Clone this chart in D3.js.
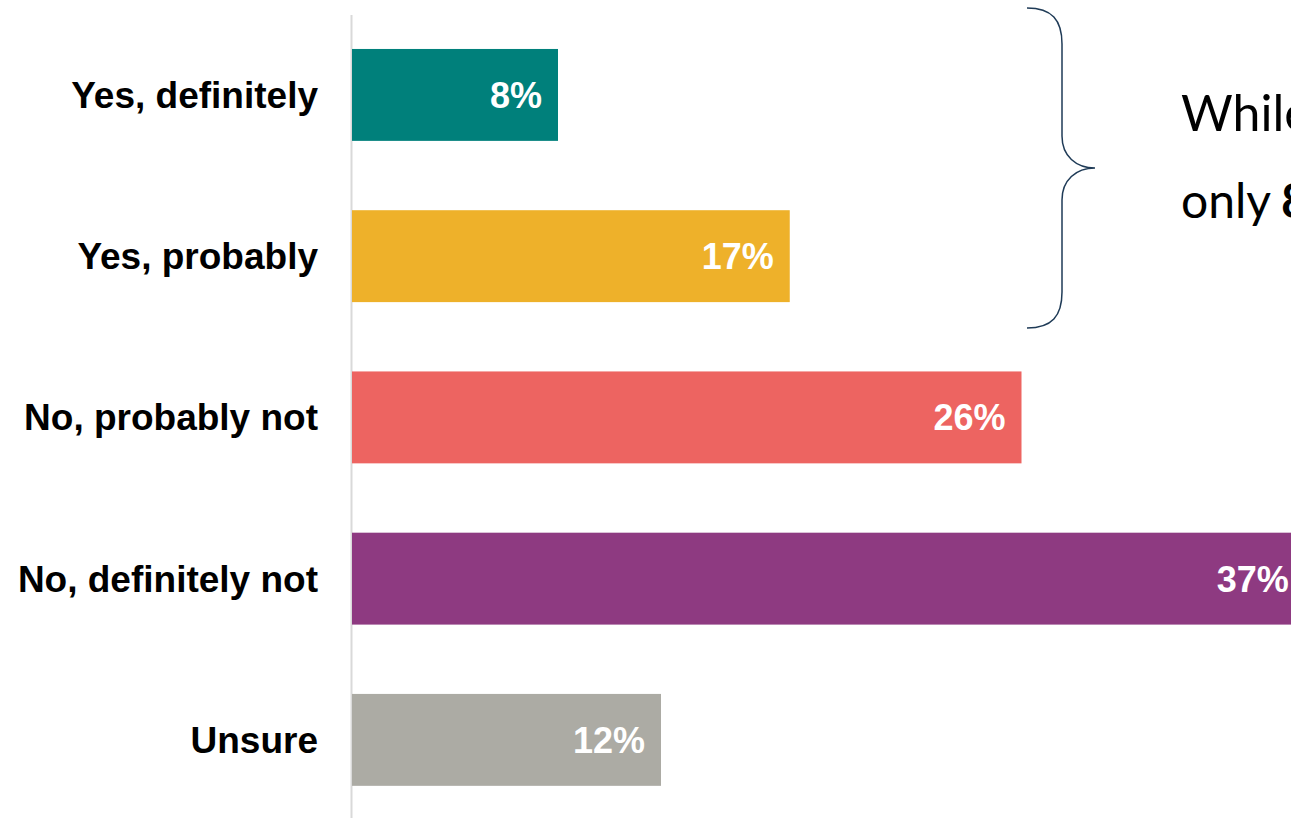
<!DOCTYPE html>
<html>
<head>
<meta charset="utf-8">
<script src="https://cdn.jsdelivr.net/npm/d3@7"></script>
<style>
  html, body { margin: 0; padding: 0; background: #fff; overflow: hidden; }
  svg { display: block; }
</style>
</head>
<body>
<svg id="chart" width="1291" height="818"></svg>
<script>
const categories = ["Yes, definitely", "Yes, probably", "No, probably not", "No, definitely not", "Unsure"];
const values = [8, 17, 26, 37, 12];
const colors = ["#00807b", "#eeb12a", "#ed6461", "#8e3a81", "#acaba4"];
const annotationLine1 = "While 25% say yes,";
const annotationLine2a = "only";
const annotationLine2b = "8%";
const annotationLine2c = " say definitely";

const svg = d3.select("#chart");

const x = d3.scaleLinear().domain([0, 37]).range([352, 352 + 37 * 25.75]);
const y = d3.scaleBand().domain(categories).range([14.3, 820.5]).paddingInner(0.43).paddingOuter(0.215);

// axis line
svg.append("line")
  .attr("x1", 351.5).attr("x2", 351.5)
  .attr("y1", 15).attr("y2", 818)
  .attr("stroke", "#d9d9d9").attr("stroke-width", 2);

// bars
svg.selectAll("rect.bar")
  .data(categories)
  .enter().append("rect")
  .attr("class", "bar")
  .attr("x", x(0))
  .attr("y", d => y(d))
  .attr("width", (d, i) => x(values[i]) - x(0))
  .attr("height", y.bandwidth())
  .attr("fill", (d, i) => colors[i]);

// value labels
svg.selectAll("text.val")
  .data(categories)
  .enter().append("text")
  .attr("class", "val")
  .attr("x", (d, i) => x(values[i]) - 16)
  .attr("y", d => y(d) + y.bandwidth() / 2 + 13)
  .attr("text-anchor", "end")
  .attr("font-family", "'Liberation Sans', Arial, sans-serif")
  .attr("font-weight", "bold")
  .attr("font-size", 36)
  .attr("fill", "#ffffff")
  .text((d, i) => values[i] + "%");

// category labels
svg.selectAll("text.cat")
  .data(categories)
  .enter().append("text")
  .attr("class", "cat")
  .attr("x", 318)
  .attr("y", d => y(d) + y.bandwidth() / 2 + 13)
  .attr("text-anchor", "end")
  .attr("font-family", "'Liberation Sans', Arial, sans-serif")
  .attr("font-weight", "bold")
  .attr("font-size", 37)
  .attr("fill", "#000000")
  .text(d => d);

// brace
const bx0 = 1027, bx1 = 1062, bx2 = 1095;
const by0 = 8, by1 = 168, by2 = 328;
const bp = d3.path();
bp.moveTo(bx0, by0);
bp.bezierCurveTo(bx0 + 25, by0, bx1, by0 + 12, bx1, by0 + 36);
bp.lineTo(bx1, by1 - 32);
bp.bezierCurveTo(bx1, by1 - 12, bx1 + 14, by1, bx2, by1);
bp.bezierCurveTo(bx1 + 14, by1, bx1, by1 + 12, bx1, by1 + 32);
bp.lineTo(bx1, by2 - 36);
bp.bezierCurveTo(bx1, by2 - 12, bx0 + 25, by2, bx0, by2);
svg.append("path")
  .attr("d", bp.toString())
  .attr("fill", "none")
  .attr("stroke", "#1f3b57")
  .attr("stroke-width", 1.5);

// annotation
const ann = svg.append("g")
  .attr("font-family", "Lato, 'Open Sans', sans-serif")
  .attr("font-size", 48)
  .attr("fill", "#000");
ann.append("text").attr("x", 1181).attr("y", 131).attr("font-size", 50).text(annotationLine1);
const t2 = ann.append("text").attr("x", 1181).attr("y", 218);
t2.append("tspan").text(annotationLine2a);
t2.append("tspan").attr("x", 1281).attr("font-weight", "bold").text(annotationLine2b);
t2.append("tspan").text(annotationLine2c);
</script>
</body>
</html>
